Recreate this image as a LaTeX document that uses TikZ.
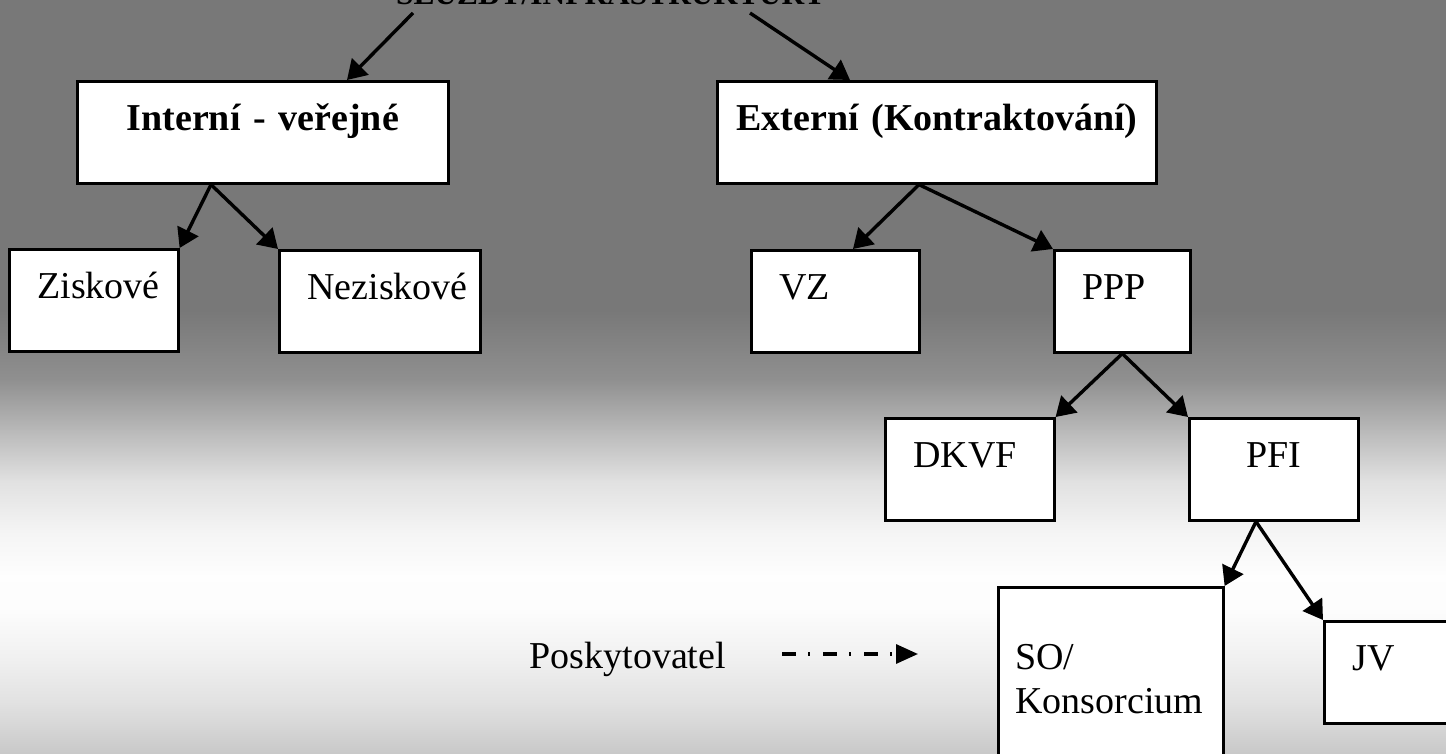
\documentclass[tikz,border=0pt]{standalone}
\usepackage{fontspec}
\setmainfont{Liberation Serif}
\usetikzlibrary{arrows.meta}

\begin{document}
\begin{tikzpicture}[ % units are pixels of the original, y grows downwards
x=0.5pt, y=-0.5pt,
font=\fontsize{19}{22}\selectfont,
box/.style={rectangle, draw=black, fill=white, line width=1.3pt, anchor=north west, inner xsep=14pt, inner ysep=5pt, text height=19.5pt, text depth=21.5pt, align=left},
bold_box/.style={box, inner xsep=5pt, align=center, font=\fontsize{19}{22}\selectfont\bfseries},
out_arrow/.style={-{Triangle[length=9.5pt,width=11.5pt]}, line width=1.7pt},
legend_arrow/.style={-{Triangle[length=11pt,width=9.5pt]}, line width=1.6pt, dash pattern=on 7pt off 6pt on 1pt off 6.5pt}
]

\useasboundingbox (0,0) rectangle (1446,754);

% background, gray - white - gray
\fill[black!53] (0,0) rectangle (1446,311);
\foreach \ya/\yb/\ca/\cb in {310/380/53/43.5, 380/430/43.5/27.5, 430/480/27.5/12, 480/530/12/4.3, 530/575/4.3/0.5, 575/610/0.5/1, 610/660/1/6, 660/705/6/12, 705/754/12/21.6}
  \shade[top color=black!\ca, bottom color=black!\cb] (0,\ya) rectangle (1446,{\yb+1});

\node[anchor=base, font=\fontsize{15.7}{18}\selectfont\bfseries](sluzby) at (611,5) {SLUŽBY/INFRASTRUKTURY};

\node[bold_box, text width=175.5pt](interni) at (76,80) {Interní - veřejné};
\node[bold_box, text width=209.5pt](externi) at (716,80) {Externí (Kontraktování)};

\node[box, text width=56.5pt](ziskove) at (8,248) {Ziskové};
\node[box, text width=72.5pt](neziskove) at (278,249) {Neziskové};
\node[box, text width=56pt](vz) at (750,249) {VZ};
\node[box, text width=40pt](ppp) at (1053,249) {PPP};

\node[box, text width=56.5pt](dkvf) at (884,417) {DKVF};
\node[box, text width=56.5pt, align=center](pfi) at (1188,417) {PFI};

\node[box, text width=95.5pt, inner xsep=8.5pt, text height=36pt, text depth=56pt](so) at (997,586) {SO/\\Konsorcium};
\node[box, text width=80pt](jv) at (1323,620) {JV};

\node[anchor=base east](poskytovatel) at (733,668) {Poskytovatel};
\coordinate (legend_start) at ([shift={(49,-14)}]poskytovatel.base east);
\coordinate (legend_end) at ([shift={(185,-14)}]poskytovatel.base east);



\draw[out_arrow]([shift={(-198,8)}]sluzby.base) -- ([xshift=135.5pt]interni.north west);
\draw[out_arrow]([shift={(139,8)}]sluzby.base) -- ([xshift=67pt]externi.north west);

\draw[out_arrow]([xshift=67.5pt]interni.south west) -- (ziskove.north east);
\draw[out_arrow]([xshift=67.5pt]interni.south west) -- (neziskove.north west);

\draw[out_arrow]([xshift=101.5pt]externi.south west) -- ([xshift=51.5pt]vz.north west);
\draw[out_arrow]([xshift=101.5pt]externi.south west) -- (ppp.north west);

\draw[out_arrow](ppp.south) -- (dkvf.north east);
\draw[out_arrow](ppp.south) -- (pfi.north west);

\draw[out_arrow]([xshift=34pt]pfi.south west) -- (so.north east);
\draw[out_arrow]([xshift=34pt]pfi.south west) -- (jv.north west);

\draw[legend_arrow](legend_start) -- (legend_end);
\end{tikzpicture}
\end{document}
